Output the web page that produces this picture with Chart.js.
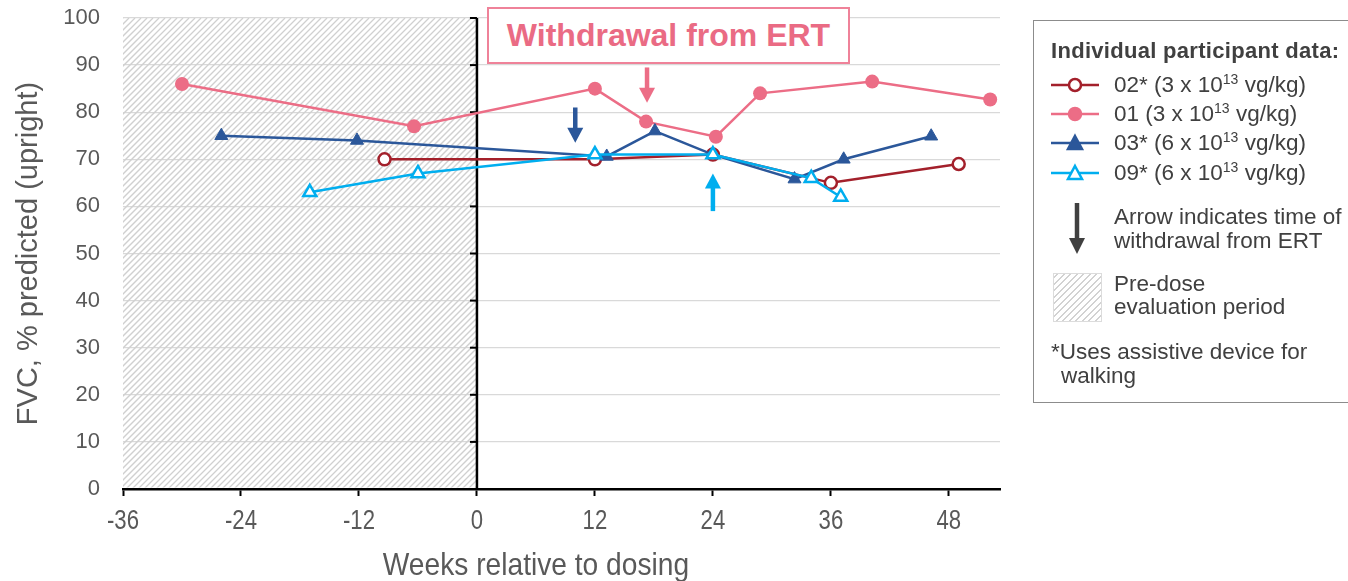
<!DOCTYPE html>
<html>
<head>
<meta charset="utf-8">
<script src="https://cdn.jsdelivr.net/npm/chart.js@4.4.0/dist/chart.umd.min.js"></script>
<style>
    body { margin: 0; background: #fff; font-family: "Liberation Sans", Arial, sans-serif; }
    #wrap { position: relative; width: 1348px; height: 581px; overflow: hidden; }
    #grafico { position: absolute; left: 0; top: 0; }
    .anotacao {
        position: absolute; left: 487px; top: 7px; width: 359px; height: 53px;
        border: 2px solid #ef8299; background: #fff; color: #ea6b84;
        font-weight: bold; font-size: 32px; line-height: 53px; text-align: center;
    }
    .legenda {
        position: absolute; left: 1033px; top: 20px; width: 340px; height: 381px;
        border: 1px solid #8c8c8c; color: #404040; font-size: 22.5px;
    }
    .legenda .linha { position: absolute; white-space: nowrap; line-height: 24px; }
    .legenda .titulo { font-weight: bold; font-size: 22px; letter-spacing: 0.3px; }
    .legenda sup { font-size: 14px; vertical-align: 8px; line-height: 0; }
    .legenda svg { position: absolute; }
    .amostra {
        position: absolute; left: 19px; top: 252px; width: 47px; height: 47px;
        border: 1px solid #dcdcdc;
        background: repeating-linear-gradient(-45deg, #fff 0 3.2px, #d2d2d2 3.2px 4.6px);
    }
</style>
</head>
<body>
<div id="wrap">
    <canvas id="grafico" width="1348" height="581"></canvas>
    <div class="anotacao">Withdrawal from ERT</div>
    <div class="legenda" id="legenda"></div>
</div>
<script>
// ============================================================
// DADOS
// ============================================================

// Participante 02* (3 x 10^13 vg/kg)
const semanas02 = [-9.4, 12, 24, 36, 49];
const fvc02 = [70, 70, 71, 65, 69];

// Participante 01 (3 x 10^13 vg/kg)
const semanas01 = [-30, -6.4, 12, 17.2, 24.3, 28.8, 40.2, 52.2];
const fvc01 = [86, 77, 85, 78, 74.8, 84, 86.5, 82.7];

// Participante 03* (6 x 10^13 vg/kg)
const semanas03 = [-26, -12.2, 13.2, 18.1, 24, 32.3, 37.3, 46.2];
const fvc03 = [75, 74, 70.6, 76, 71, 65.8, 70, 74.9];

// Participante 09* (6 x 10^13 vg/kg)
const semanas09 = [-17, -6, 12, 24, 34, 37];
const fvc09 = [63, 67, 71, 71, 66, 62];

// Setas de retirada da ERT (semana, valor da cauda, valor da ponta)
const setaSemanas = [10, 17.3, 24];
const setaCauda = [81, 89.5, 59];
const setaPonta = [73.5, 82, 67];
const setaCores = ['#2b579a', '#ec6d86', '#00aeef'];

// Período pré-dose e eixos
const periodoPreDose = [-36, 0];
const eixoX = { min: -36, max: 53.2, passo: 12 };
const eixoY = { min: 0, max: 100, passo: 10 };
const tituloX = 'Weeks relative to dosing';

const pontos = (xs, ys) => xs.map((x, i) => ({ x, y: ys[i] }));

// ============================================================
// PLUGINS
// ============================================================

const hachuraPlugin = {
    id: 'hachura',
    beforeDatasetsDraw(chart) {
        const { ctx, scales: { x, y } } = chart;
        const x0 = x.getPixelForValue(periodoPreDose[0]);
        const x1 = x.getPixelForValue(periodoPreDose[1]);
        const yTop = y.getPixelForValue(eixoY.max);
        const yBot = y.getPixelForValue(eixoY.min);
        const h = yBot - yTop;

        ctx.save();
        ctx.beginPath();
        ctx.rect(x0, yTop, x1 - x0, h - 1.5);
        ctx.clip();
        ctx.strokeStyle = '#d0d0d0';
        ctx.lineWidth = 1.3;
        for (let s = x0 - h; s < x1 + 6; s += 6) {
            ctx.beginPath();
            ctx.moveTo(s, yBot);
            ctx.lineTo(s + h, yTop);
            ctx.stroke();
        }
        ctx.restore();

        // linha vertical em x = 0 com marcas dos ticks
        const xz = x.getPixelForValue(0);
        ctx.save();
        ctx.strokeStyle = '#000';
        ctx.lineWidth = 2.5;
        ctx.beginPath();
        ctx.moveTo(xz, yTop);
        ctx.lineTo(xz, yBot);
        ctx.stroke();
        ctx.lineWidth = 2;
        y.ticks.forEach(t => {
            const py = y.getPixelForValue(t.value);
            ctx.beginPath();
            ctx.moveTo(xz - 7, py);
            ctx.lineTo(xz, py);
            ctx.stroke();
        });
        ctx.restore();
    }
};

function desenhaSeta(ctx, x, yCauda, yPonta, cor) {
    const dir = yPonta > yCauda ? 1 : -1;
    const cab = 15;
    ctx.save();
    ctx.fillStyle = cor;
    ctx.strokeStyle = cor;
    ctx.lineWidth = 4.5;
    ctx.beginPath();
    ctx.moveTo(x, yCauda);
    ctx.lineTo(x, yPonta - dir * (cab - 1));
    ctx.stroke();
    ctx.beginPath();
    ctx.moveTo(x, yPonta);
    ctx.lineTo(x - 8, yPonta - dir * cab);
    ctx.lineTo(x + 8, yPonta - dir * cab);
    ctx.closePath();
    ctx.fill();
    ctx.restore();
}

const setasPlugin = {
    id: 'setas',
    afterDatasetsDraw(chart) {
        const { ctx, scales: { x, y } } = chart;
        setaSemanas.forEach((s, i) => {
            desenhaSeta(ctx, x.getPixelForValue(s), y.getPixelForValue(setaCauda[i]),
                y.getPixelForValue(setaPonta[i]), setaCores[i]);
        });
    }
};

// Rótulos do eixo X em fonte estreita (simula Arial Narrow)
const rotulosXPlugin = {
    id: 'rotulosX',
    afterDraw(chart) {
        const { ctx, scales: { x } } = chart;
        const yAxis = x.top;
        ctx.save();
        ctx.fillStyle = '#595959';
        ctx.textAlign = 'center';
        ctx.textBaseline = 'middle';
        ctx.font = '27px "Liberation Sans", Arial, sans-serif';
        x.ticks.forEach(t => {
            ctx.save();
            ctx.translate(x.getPixelForValue(t.value), yAxis + 33);
            ctx.scale(0.82, 1);
            ctx.fillText(t.label, 0, 0);
            ctx.restore();
        });
        const primeiro = x.getPixelForValue(x.ticks[0].value);
        const ultimo = x.getPixelForValue(x.ticks[x.ticks.length - 1].value);
        ctx.font = '32px "Liberation Sans", Arial, sans-serif';
        ctx.translate((primeiro + ultimo) / 2, yAxis + 77);
        ctx.scale(0.88, 1);
        ctx.fillText(tituloX, 0, 0);
        ctx.restore();
    }
};

// ============================================================
// GRÁFICO
// ============================================================

Chart.defaults.font.family = '"Liberation Sans", Arial, sans-serif';

new Chart(document.getElementById('grafico'), {
    type: 'scatter',
    data: {
        datasets: [
            {
                label: '01', data: pontos(semanas01, fvc01), showLine: true, order: 4,
                borderColor: '#ec6d86', backgroundColor: '#ec6d86', borderWidth: 2.5,
                pointStyle: 'circle', pointRadius: 7, pointBorderWidth: 0
            },
            {
                label: '02*', data: pontos(semanas02, fvc02), showLine: true, order: 3,
                borderColor: '#a3202b', backgroundColor: '#fff', borderWidth: 2.5,
                pointStyle: 'circle', pointRadius: 6, pointBorderWidth: 2.5
            },
            {
                label: '03*', data: pontos(semanas03, fvc03), showLine: true, order: 2,
                borderColor: '#2b579a', backgroundColor: '#2b579a', borderWidth: 2.5,
                pointStyle: 'triangle', pointRadius: 7.5, pointBorderWidth: 1
            },
            {
                label: '09*', data: pontos(semanas09, fvc09), showLine: true, order: 1,
                borderColor: '#00aeef', backgroundColor: '#fff', borderWidth: 2.5,
                pointStyle: 'triangle', pointRadius: 7.5, pointBorderWidth: 2.5
            }
        ]
    },
    options: {
        responsive: false,
        animation: false,
        layout: { padding: { left: 0, right: 348, top: 18, bottom: 0 } },
        plugins: { legend: { display: false }, tooltip: { enabled: false } },
        scales: {
            x: {
                type: 'linear', min: eixoX.min, max: eixoX.max,
                afterFit: s => { s.height = 92; },
                border: { display: true, color: '#000', width: 2.5 },
                grid: { display: true, drawOnChartArea: false, drawTicks: true, tickLength: 7, tickColor: '#000', tickWidth: 2 },
                ticks: { stepSize: eixoX.passo, includeBounds: false, display: false },
                title: { display: false }
            },
            y: {
                min: eixoY.min, max: eixoY.max,
                afterFit: s => { s.width = 123; s.paddingTop = 0; s.paddingBottom = 0; },
                border: { display: false },
                grid: { color: '#d9d9d9', lineWidth: 1.3, drawTicks: false },
                ticks: { stepSize: eixoY.passo, padding: 23, color: '#595959', font: { size: 22 } },
                title: {
                    display: true, text: 'FVC, % predicted (upright)', color: '#595959',
                    font: { size: 29, lineHeight: 1 }, padding: { top: 14, bottom: 0 }
                }
            }
        }
    },
    plugins: [hachuraPlugin, setasPlugin, rotulosXPlugin]
});

// ============================================================
// LEGENDA
// ============================================================

const legendaSeries = [
    { id: '02*', dose: '3', cor: '#a3202b', marca: 'circulo', cheio: false },
    { id: '01', dose: '3', cor: '#ec6d86', marca: 'circulo', cheio: true },
    { id: '03*', dose: '6', cor: '#2b579a', marca: 'triangulo', cheio: true },
    { id: '09*', dose: '6', cor: '#00aeef', marca: 'triangulo', cheio: false }
];

function marcador(s) {
    const fill = s.cheio ? s.cor : '#fff';
    const forma = s.marca === 'circulo'
        ? `<circle cx="24" cy="10" r="6" fill="${fill}" stroke="${s.cor}" stroke-width="2.5"/>`
        : `<polygon points="24,3 31,16 17,16" fill="${fill}" stroke="${s.cor}" stroke-width="2.5"/>`;
    return `<line x1="0" y1="10" x2="48" y2="10" stroke="${s.cor}" stroke-width="2.5"/>${forma}`;
}

const centros = [64, 93, 122, 152];
document.getElementById('legenda').innerHTML = `
    <div class="linha titulo" style="left:17px; top:18px;">Individual participant data:</div>
    ${legendaSeries.map((s, i) => `
        <svg style="left:17px; top:${centros[i] - 10}px;" width="48" height="20">${marcador(s)}</svg>
        <div class="linha" style="left:80px; top:${centros[i] - 12}px;">${s.id} (${s.dose} x 10<sup>13</sup> vg/kg)</div>
    `).join('')}
    <svg style="left:34px; top:182px;" width="18" height="52">
        <line x1="9" y1="0" x2="9" y2="36" stroke="#404040" stroke-width="4.5"/>
        <polygon points="9,51 1,35 17,35" fill="#404040"/>
    </svg>
    <div class="linha" style="left:80px; top:184px;">Arrow indicates time of</div>
    <div class="linha" style="left:80px; top:208px;">withdrawal from ERT</div>
    <div class="amostra"></div>
    <div class="linha" style="left:80px; top:251px;">Pre-dose</div>
    <div class="linha" style="left:80px; top:274px;">evaluation period</div>
    <div class="linha" style="left:17px; top:319px;">*Uses assistive device for</div>
    <div class="linha" style="left:27px; top:343px;">walking</div>
`;
</script>
</body>
</html>
